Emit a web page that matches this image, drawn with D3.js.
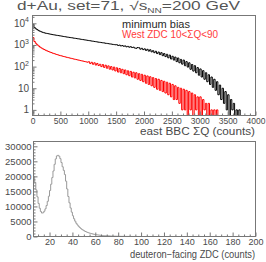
<!DOCTYPE html>
<html><head><meta charset="utf-8">
<script src="https://cdn.jsdelivr.net/npm/d3@7/dist/d3.min.js"></script>
<style>
body{margin:0;background:#fff}
svg{display:block}
text{font-family:"Liberation Sans",Arial,sans-serif;fill:#4a4a4a}
</style>
</head><body>
<svg id="c" width="266" height="262"></svg>
<script>
// ---------- DATA ----------
const bbcBinStart = 0;
const bbcBinWidth = 25;
const minimumBias = [
 9000,6400,5600,5100,4600,4300,4050,3800,3650,3500,
 3400,3300,3200,3100,3020,2930,2860,2790,2720,2660,
 2600,2530,2460,2400,2340,2290,2230,2190,2140,2080,
 2040,1990,1940,1900,1850,1800,1760,1720,1680,1640,
 1600,1560,1520,1490,1450,1420,1380,1350,1320,1290,
 1260,1240,1200,1180,1150,1120,1100,1070,1045,1020,
 1030,950,985,900,940,870,905,820,860,790,
 830,760,790,720,700,760,745,640,700,610,
 660,560,630,520,600,480,545,440,510,400,
 470,360,440,320,400,290,370,255,340,225,
 300,200,275,170,250,150,215,130,200,110,
 170,95,150,75,125,62,110,52,90,40,
 78,33,65,26,52,20,42,15,33,11,
 26,8,20,5,14,3,10,2,7,1,
 5,0,3,1,2,0,1,0,1,0,
 0,0,0,0,0,0,0,0,0,0];
const westZdcCut = [
 2200,1450,1200,1020,900,800,725,665,615,570,
 535,500,470,445,420,400,380,362,345,330,
 318,305,293,282,271,261,252,243,234,226,
 218,211,204,197,190,184,178,172,166,160,
 168,138,158,128,150,118,140,112,128,100,
 124,92,116,84,108,76,100,70,95,63,
 88,56,82,52,75,47,70,42,64,38,
 60,33,55,30,52,26,47,23,44,20,
 40,17,37,15,34,13,31,11,28,9,
 26,8,23,7,21,6,19,5,17,4,
 15,3,13,3,11,2,10,1,9,1,
 8,0,7,1,6,0,5,1,4,0,
 4,0,3,1,2,0,2,0,1,0,
 1,0,1,0,0,0,0,0,0,0,
 0,0,0,0,0,0,0,0,0,0,
 0,0,0,0,0,0,0,0,0,0];
const zdcBinStart = 6;
const zdcBinWidth = 1;
const zdcCounts = [
 20000,18000,15500,13200,11000,9400,8300,7800,7900,8400,
 9200,10300,11700,13400,15300,17400,19600,21800,24000,25800,
 26800,27000,26700,25900,24600,23200,22000,20600,18400,15800,
 13300,11200,9500,8100,6900,5900,5100,4400,3850,3400,
 3000,2650,2350,2100,1870,1670,1500,1340,1200,1080,
 970,870,780,700,630,565,510,460,415,375,
 340,305,275,250,225,200,180,160,145,130,
 115,100,90,80,70,62,55,48,42,37,
 33,29,25,22,19,17,15,13,11,10,
 9,8,7,6];
const topXTicks = [0,500,1000,1500,2000,2500,3000,3500,4000];
const topYTicks = [1,10,100,1000,10000];
const topYBase = ["1","10","10","10","10"];
const topYExp  = ["","","2","3","4"];
const botXTicks = [20,40,60,80,100,120,140,160,180,200];
const botYTicks = [0,5000,10000,15000,20000,25000,30000];
const legendLabels = ["minimum bias","West ZDC 10<\u03A3Q<90"];
const legendColors = ["#2a2a2a","#ff3b3b"];

// ---------- DRAW ----------
const svg = d3.select("#c");
const frameColor = "#777";

// Title
const title = svg.append("text").attr("x",17).attr("y",10)
  .attr("textLength",223).attr("lengthAdjust","spacingAndGlyphs")
  .style("font-size","12px").style("fill","#555");
title.append("tspan").text("d+Au, set=71, \u221As");
title.append("tspan").text("NN").style("font-size","7px").attr("dy",2.5);
title.append("tspan").text("=200 GeV").attr("dy",-2.5);

// ---- top pad ----
const tx = d3.scaleLinear().domain([0,4000]).range([32.5,255.5]);
const ty = d3.scaleLog().domain([0.55,23000]).range([115.5,15.5]);

function stepPath(edgesStart, width, vals, xs, ys, floor){
  const pts = [[edgesStart, floor]];
  vals.forEach((v,i)=>pts.push([edgesStart+i*width, Math.max(v,floor)]));
  pts.push([edgesStart+vals.length*width, Math.max(vals[vals.length-1],floor)]);
  return d3.line().x(d=>xs(d[0])).y(d=>ys(d[1])).curve(d3.curveStepAfter)(pts);
}

svg.append("clipPath").attr("id","tc").append("rect")
  .attr("x",32.5).attr("y",15.5).attr("width",223).attr("height",100);

const gTop = svg.append("g").attr("clip-path","url(#tc)");
gTop.append("path").attr("d",stepPath(bbcBinStart,bbcBinWidth,minimumBias,tx,ty,0.55))
  .attr("fill","none").attr("stroke","#000").attr("stroke-width",1);
gTop.append("path").attr("d",stepPath(bbcBinStart,bbcBinWidth,westZdcCut,tx,ty,0.55))
  .attr("fill","none").attr("stroke","#ff0000").attr("stroke-width",1);

// top x axis
const txMinor = d3.range(0,4001,100).filter(v=>v%500!==0);
svg.append("g").attr("transform","translate(0,115.5)")
  .call(d3.axisBottom(tx).tickValues(txMinor).tickSize(-2).tickFormat(""))
  .call(g=>{g.select(".domain").remove(); g.selectAll("line").attr("stroke",frameColor);});
svg.append("g").attr("transform","translate(0,115.5)")
  .call(d3.axisBottom(tx).tickValues(topXTicks).tickSize(-4).tickPadding(2).tickFormat(d3.format("d")))
  .call(g=>{g.select(".domain").remove(); g.selectAll("line").attr("stroke",frameColor);
    g.selectAll("text").style("font-size","8.5px").attr("fill","#4a4a4a").style("font-family","Liberation Sans");});

// top y axis
const tyMinor = [];
[0.1,1,10,100,1000,10000].forEach(d=>{for(let k=2;k<=9;k++){const v=d*k; if(v>0.55&&v<23000) tyMinor.push(v);}});
svg.append("g").attr("transform","translate(32.5,0)")
  .call(d3.axisLeft(ty).tickValues(tyMinor).tickSize(-2).tickFormat(""))
  .call(g=>{g.select(".domain").remove(); g.selectAll("line").attr("stroke",frameColor);});
svg.append("g").attr("transform","translate(32.5,0)")
  .call(d3.axisLeft(ty).tickValues(topYTicks).tickSize(-4).tickFormat(""))
  .call(g=>{g.select(".domain").remove(); g.selectAll("line").attr("stroke",frameColor);});
topYTicks.forEach((v,i)=>{
  const t = svg.append("text").attr("x",29).attr("y",ty(v)+3.5).attr("text-anchor","end")
    .style("font-size","10px");
  t.append("tspan").text(topYBase[i]);
  if(topYExp[i]) t.append("tspan").text(topYExp[i]).style("font-size","7px").attr("dy",-4.5);
});

svg.append("rect").attr("x",32.5).attr("y",15.5).attr("width",223).attr("height",100)
  .attr("fill","none").attr("stroke",frameColor);

// legend
const legendWidths = [68,96];
legendLabels.forEach((s,i)=>{
  svg.append("text").attr("x",122).attr("y",27.5+i*10).text(s)
    .attr("textLength",legendWidths[i]).attr("lengthAdjust","spacingAndGlyphs")
    .style("font-size","10px").style("fill",legendColors[i]);
});

svg.append("text").attr("x",140).attr("y",134.5)
  .attr("textLength",115).attr("lengthAdjust","spacingAndGlyphs")
  .style("font-size","10px").text("east BBC \u03A3Q (counts)");

// ---- bottom pad ----
const bx = d3.scaleLinear().domain([6,200]).range([33.5,255.5]);
const by = d3.scaleLinear().domain([0,31600]).range([236.5,141.5]);

svg.append("path").attr("d",stepPath(zdcBinStart,zdcBinWidth,zdcCounts,bx,by,0))
  .attr("fill","none").attr("stroke","#999").attr("stroke-width",1);

const bxMinor = d3.range(10,201,5).filter(v=>v%20!==0);
svg.append("g").attr("transform","translate(0,236.5)")
  .call(d3.axisBottom(bx).tickValues(bxMinor).tickSize(-2).tickFormat(""))
  .call(g=>{g.select(".domain").remove(); g.selectAll("line").attr("stroke",frameColor);});
svg.append("g").attr("transform","translate(0,236.5)")
  .call(d3.axisBottom(bx).tickValues(botXTicks).tickSize(-4).tickPadding(2).tickFormat(d3.format("d")))
  .call(g=>{g.select(".domain").remove(); g.selectAll("line").attr("stroke",frameColor);
    g.selectAll("text").style("font-size","9px").attr("fill","#4a4a4a").style("font-family","Liberation Sans");});

const byMinor = d3.range(0,31001,1000).filter(v=>v%5000!==0);
svg.append("g").attr("transform","translate(33.5,0)")
  .call(d3.axisLeft(by).tickValues(byMinor).tickSize(-2).tickFormat(""))
  .call(g=>{g.select(".domain").remove(); g.selectAll("line").attr("stroke",frameColor);});
svg.append("g").attr("transform","translate(33.5,0)")
  .call(d3.axisLeft(by).tickValues(botYTicks).tickSize(-4).tickPadding(2).tickFormat(d3.format("d")))
  .call(g=>{g.select(".domain").remove(); g.selectAll("line").attr("stroke",frameColor);
    g.selectAll("text").style("font-size","9.5px").attr("fill","#4a4a4a").style("font-family","Liberation Sans");});

svg.append("rect").attr("x",33.5).attr("y",141.5).attr("width",222).attr("height",95)
  .attr("fill","none").attr("stroke",frameColor);

svg.append("text").attr("x",130).attr("y",257.5)
  .attr("textLength",125).attr("lengthAdjust","spacingAndGlyphs")
  .style("font-size","10px").text("deuteron\u2212facing ZDC (counts)");
</script>
</body></html>
